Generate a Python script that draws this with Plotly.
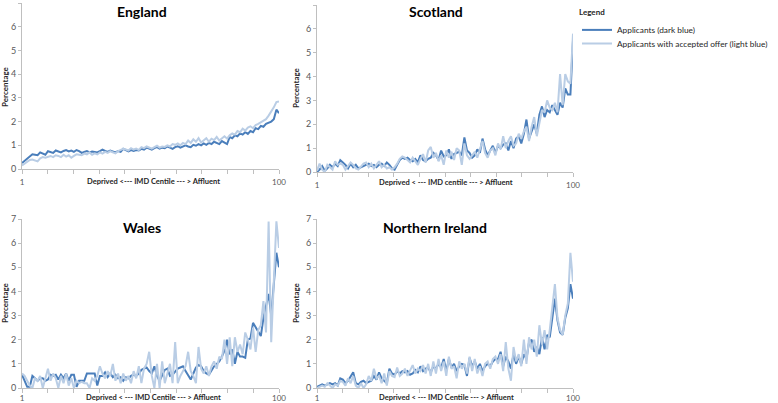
import plotly.graph_objects as go

# ---------------- data ----------------
centiles = list(range(1, 101))

england_applicants = [
    0.25, 0.35, 0.45, 0.55, 0.62, 0.60, 0.58, 0.70, 0.65, 0.60,
    0.75, 0.72, 0.68, 0.78, 0.73, 0.70, 0.76, 0.80, 0.74, 0.78,
    0.72, 0.80, 0.75, 0.68, 0.72, 0.76, 0.70, 0.74, 0.72, 0.70,
    0.75, 0.82, 0.76, 0.72, 0.78, 0.74, 0.70, 0.76, 0.72, 0.85,
    0.78, 0.74, 0.80, 0.76, 0.80, 0.78, 0.85, 0.82, 0.90, 0.86,
    0.82, 0.88, 0.92, 0.86, 0.90, 0.88, 0.95, 0.90, 0.85, 0.92,
    0.96, 0.90, 0.94, 1.00, 0.95, 0.92, 1.02, 0.98, 1.05, 1.00,
    1.08, 1.02, 1.10, 1.05, 1.15, 1.10, 1.05, 1.18, 1.12, 1.05,
    1.35, 1.30, 1.42, 1.38, 1.50, 1.45, 1.55, 1.48, 1.60, 1.55,
    1.72, 1.68, 1.82, 1.78, 1.90, 1.95, 2.00, 2.10, 2.50, 2.35,
]
england_accepted = [
    0.15, 0.22, 0.30, 0.38, 0.40, 0.35, 0.32, 0.45, 0.50, 0.48,
    0.52, 0.55, 0.50, 0.58, 0.55, 0.50, 0.60, 0.52, 0.58, 0.48,
    0.55, 0.62, 0.60, 0.58, 0.65, 0.62, 0.70, 0.60, 0.66, 0.62,
    0.70, 0.65, 0.72, 0.68, 0.75, 0.70, 0.66, 0.75, 0.80, 0.85,
    0.82, 0.78, 0.88, 0.82, 0.86, 0.80, 0.92, 0.88, 0.95, 0.90,
    0.86, 0.92, 0.98, 0.90, 0.95, 0.93, 1.00, 0.95, 1.05, 1.02,
    1.08, 1.00, 1.10, 1.05, 1.20, 1.10, 1.25, 1.15, 1.30, 1.12,
    1.20, 1.30, 1.15, 1.28, 1.22, 1.35, 1.20, 1.30, 1.38, 1.28,
    1.42, 1.50, 1.45, 1.60, 1.55, 1.70, 1.62, 1.75, 1.80, 1.72,
    1.85, 1.90, 1.98, 2.05, 2.10, 2.25, 2.40, 2.60, 2.82, 2.85,
]

scotland_applicants = [
    0.00, 0.10, 0.25, 0.05, 0.15, 0.30, 0.20, 0.35, 0.25, 0.50,
    0.40, 0.30, 0.15, 0.35, 0.20, 0.30, 0.15, 0.20, 0.25, 0.30,
    0.35, 0.25, 0.30, 0.20, 0.30, 0.35, 0.25, 0.40, 0.30, 0.15,
    0.10, 0.30, 0.50, 0.60, 0.55, 0.60, 0.50, 0.45, 0.55, 0.40,
    0.70, 0.50, 0.45, 0.55, 0.60, 0.80, 0.70, 0.50, 0.90, 0.65,
    0.70, 0.95, 0.55, 0.75, 0.80, 0.85, 0.70, 1.45, 0.90, 0.80,
    0.60, 0.70, 0.95, 0.80, 1.40, 0.95, 0.70, 0.90, 1.10, 0.80,
    1.10, 1.00, 1.15, 1.20, 0.90, 1.30, 1.00, 1.40, 1.50, 1.20,
    1.60, 2.20, 1.40, 1.70, 2.00, 1.60, 2.40, 2.75, 2.30, 2.60,
    2.50, 2.80, 2.60, 2.40, 2.90, 2.70, 3.50, 3.25, 3.25, 5.50,
]
scotland_accepted = [
    0.05, 0.35, 0.10, 0.00, 0.30, 0.20, 0.10, 0.45, 0.30, 0.35,
    0.30, 0.10, 0.25, 0.40, 0.30, 0.15, 0.10, 0.25, 0.35, 0.40,
    0.20, 0.35, 0.15, 0.30, 0.45, 0.20, 0.30, 0.15, 0.20, 0.10,
    0.20, 0.35, 0.55, 0.65, 0.60, 0.50, 0.40, 0.60, 0.45, 0.30,
    0.55, 0.75, 0.40, 0.90, 1.05, 0.60, 0.80, 0.45, 0.70, 0.30,
    0.90, 0.60, 0.85, 0.50, 1.00, 0.90, 0.30, 1.20, 0.70, 0.55,
    0.70, 0.85, 0.60, 1.00, 1.30, 0.80, 0.60, 0.90, 1.00, 0.70,
    1.20, 0.95, 1.50, 1.00, 1.30, 1.50, 1.10, 1.20, 1.60, 1.40,
    1.70, 1.90, 1.30, 1.90, 2.30, 1.50, 2.10, 2.60, 2.50, 3.00,
    2.70, 2.60, 2.90, 2.50, 4.10, 2.80, 4.10, 3.80, 3.70, 5.80,
]

wales_applicants = [
    0.55, 0.30, 0.05, 0.05, 0.50, 0.40, 0.30, 0.40, 0.40, 0.30,
    0.35, 0.55, 0.50, 0.55, 0.35, 0.55, 0.40, 0.60, 0.30, 0.55,
    0.55, 0.05, 0.30, 0.30, 0.30, 0.60, 0.60, 0.60, 0.60, 0.10,
    0.50, 0.50, 0.65, 0.45, 0.60, 0.45, 0.55, 0.40, 0.45, 0.30,
    0.45, 0.40, 0.50, 0.55, 0.50, 0.60, 0.75, 0.80, 0.85, 0.70,
    0.60, 0.90, 0.50, 0.30, 0.55, 0.75, 0.80, 0.50, 0.55, 0.70,
    0.80, 0.85, 0.90, 0.70, 0.55, 0.35, 0.60, 0.85, 0.95, 0.90,
    0.70, 0.60, 0.55, 0.75, 0.90, 1.00, 1.10, 1.30, 1.55, 2.00,
    1.40, 1.60, 1.00, 1.50, 1.30, 1.30, 1.25, 2.00, 2.05, 2.70,
    2.50, 2.30, 2.15, 2.90, 3.40, 3.90, 3.00, 4.50, 5.60, 5.00,
]
wales_accepted = [
    0.60, 0.50, 0.30, 0.10, 0.00, 0.40, 0.30, 0.50, 0.00, 0.40,
    0.80, 0.30, 0.60, 0.40, 0.00, 0.50, 0.20, 0.60, 0.10, 0.40,
    0.00, 0.30, 0.20, 0.25, 0.20, 0.20, 0.00, 0.40, 0.30, 0.50,
    0.90, 0.60, 0.40, 0.70, 0.50, 1.00, 0.30, 0.60, 0.20, 0.60,
    0.30, 0.50, 0.20, 0.70, 0.40, 0.90, 0.20, 0.80, 1.00, 1.50,
    0.50, 0.00, 1.00, 0.00, 1.10, 0.20, 0.60, 1.00, 0.20, 1.90,
    0.20, 0.50, 0.70, 0.90, 1.50, 0.70, 0.50, 0.20, 1.70, 0.80,
    0.60, 0.90, 0.50, 0.90, 1.10, 0.80, 1.30, 1.20, 2.00, 1.00,
    2.10, 0.90, 2.10, 1.50, 1.80, 1.40, 2.30, 2.00, 1.60, 2.50,
    1.50, 2.40, 2.60, 3.60, 2.30, 6.90, 1.90, 4.50, 6.90, 5.80,
]

ni_applicants = [
    0.05, 0.10, 0.15, 0.10, 0.15, 0.20, 0.15, 0.20, 0.10, 0.40,
    0.35, 0.20, 0.30, 0.45, 0.65, 0.20, 0.15, 0.25, 0.30, 0.20,
    0.25, 0.30, 0.50, 0.35, 0.65, 0.40, 0.30, 0.20, 0.80, 0.60,
    0.55, 0.70, 0.60, 0.70, 0.65, 0.70, 0.55, 0.60, 0.75, 0.65,
    0.90, 0.70, 0.80, 0.85, 0.65, 0.90, 0.80, 1.00, 0.85, 1.20,
    0.70, 1.20, 0.85, 1.00, 0.70, 0.90, 1.00, 0.95, 0.50, 1.25,
    0.90, 1.10, 0.80, 1.00, 0.70, 0.90, 1.00, 0.90, 1.10, 1.20,
    1.20, 1.50, 0.90, 1.30, 1.10, 0.80, 1.40, 1.00, 1.30, 1.00,
    1.40, 1.20, 1.90, 2.00, 1.50, 1.70, 1.40, 2.10, 1.60, 2.20,
    2.10, 3.00, 3.70, 2.80, 2.30, 2.20, 2.90, 3.30, 4.30, 3.70,
]
ni_accepted = [
    0.00, 0.05, 0.10, 0.05, 0.20, 0.10, 0.00, 0.15, 0.10, 0.30,
    0.25, 0.10, 0.40, 0.20, 0.50, 0.10, 0.00, 0.20, 0.00, 0.15,
    0.50, 0.30, 0.80, 0.40, 0.50, 0.20, 0.60, 0.10, 0.70, 0.50,
    0.45, 0.85, 0.50, 0.60, 0.80, 0.50, 0.70, 0.95, 0.60, 0.80,
    0.70, 0.95, 0.60, 1.00, 0.50, 1.10, 0.60, 1.20, 0.70, 1.10,
    0.50, 1.30, 0.80, 0.90, 0.40, 1.10, 0.80, 1.00, 0.60, 1.30,
    0.70, 1.20, 0.60, 0.90, 0.50, 1.00, 1.10, 0.80, 1.20, 1.30,
    1.00, 1.40, 0.70, 1.90, 0.80, 0.30, 1.70, 1.10, 1.40, 0.90,
    2.00, 1.00, 2.10, 1.60, 2.00, 1.30, 2.60, 1.80, 2.40, 1.60,
    2.40, 3.50, 4.30, 2.90, 2.40, 2.20, 3.00, 3.50, 5.60, 4.40,
]

panel_titles = ["England", "Scotland", "Wales", "Northern Ireland"]
x_titles = [
    "Deprived <--- IMD Centile --- > Affluent",
    "Deprived < --- IMD centile --- > Affluent",
    "Deprived < --- IMD Centile --- > Affluent",
    "Deprived < --- IMD Centile --- > Affluent",
]
y_title = "Percentage"
legend_title = "Legend"
series_names = ["Applicants (dark blue)", "Applicants with accepted offer (light blue)"]
y_ticks = [0, 1, 2, 3, 4, 5, 6, 7]
x_first_label, x_last_label = "1", "100"

# ---------------- layout helpers ----------------
W, H = 778, 403
DARK = "#4a7ebb"
LIGHT = "#b9cde5"
AXIS = "#bfbfbf"
TICKTXT = "#595959"
FONT = "Lato"


def fx(p):
    return p / W


def fy(p):
    return 1 - p / H


# panel boxes in pixels: left, right, top(=7), bottom(=0)
boxes = [
    (22, 279, 3, 169),
    (317, 573, 5, 172),
    (22, 279, 219, 388),
    (317, 573, 219, 388),
]
title_pos = [(142, 12), (436, 12), (142, 227), (435, 227)]
xtitle_pos = [(153, 181), (446, 183), (153, 397), (446, 397)]
ytitle_pos = [(5, 87), (296, 88), (5, 303), (296, 303)]
label_standoff = [1, 1, -2, -2]

data_pairs = [
    (england_applicants, england_accepted),
    (scotland_applicants, scotland_accepted),
    (wales_applicants, wales_accepted),
    (ni_applicants, ni_accepted),
]

fig = go.Figure()
tickvals = [1 + 9.9 * k for k in range(11)]
ticktext = [x_first_label] + [""] * 9 + [x_last_label]

annotations = []
for i, ((dark, light), box) in enumerate(zip(data_pairs, boxes)):
    n = "" if i == 0 else str(i + 1)
    xa, ya = "x" + n, "y" + n
    fig.add_trace(go.Scatter(x=centiles, y=dark, mode="lines", name=series_names[0],
                             line=dict(color=DARK, width=2), xaxis=xa, yaxis=ya,
                             showlegend=(i == 0), legend="legend"))
    fig.add_trace(go.Scatter(x=centiles, y=light, mode="lines", name=series_names[1],
                             line=dict(color=LIGHT, width=2), xaxis=xa, yaxis=ya,
                             showlegend=(i == 0), legend="legend2"))
    l, r, t, b = box
    fig.layout["xaxis" + n] = dict(
        domain=[fx(l), fx(r)], anchor=ya, range=[1, 100], tickmode="array",
        tickvals=tickvals, ticktext=ticktext, ticks="outside", ticklen=4,
        tickcolor=AXIS, showline=True, linecolor=AXIS, linewidth=1,
        showgrid=False, zeroline=False, automargin=False,
        ticklabelstandoff=label_standoff[i],
        tickfont=dict(family=FONT, size=8, color=TICKTXT),
    )
    fig.layout["yaxis" + n] = dict(
        domain=[fy(b), fy(t)], anchor=xa, range=[0, 7], tickmode="array",
        tickvals=y_ticks, ticks="outside", ticklen=3, tickcolor=AXIS,
        showline=True, linecolor=AXIS, linewidth=1, showgrid=False, zeroline=False,
        automargin=False,
        tickfont=dict(family=FONT, size=9, color=TICKTXT),
    )
    tx, ty = title_pos[i]
    annotations.append(dict(text="<b>%s</b>" % panel_titles[i], x=fx(tx), y=fy(ty),
                            xref="paper", yref="paper", showarrow=False,
                            xanchor="center", yanchor="middle",
                            font=dict(family=FONT, size=14, color="#000000")))
    xx, xy = xtitle_pos[i]
    annotations.append(dict(text="<b>%s</b>" % x_titles[i], x=fx(xx), y=fy(xy),
                            xref="paper", yref="paper", showarrow=False,
                            xanchor="center", yanchor="middle",
                            font=dict(family=FONT, size=7.5, color="#262626")))
    yx, yy = ytitle_pos[i]
    annotations.append(dict(text="<b>%s</b>" % y_title, x=fx(yx), y=fy(yy),
                            xref="paper", yref="paper", showarrow=False, textangle=-90,
                            xanchor="center", yanchor="middle",
                            font=dict(family=FONT, size=8, color="#262626")))

legend_common = dict(
    xanchor="left", yanchor="top",
    font=dict(family=FONT, size=8.3, color="#262626"),
    bgcolor="rgba(0,0,0,0)", borderwidth=0, tracegroupgap=0, itemwidth=30,
)

fig.update_layout(
    width=W, height=H,
    margin=dict(l=0, r=0, t=0, b=0, autoexpand=False),
    paper_bgcolor="white", plot_bgcolor="white",
    annotations=annotations,
    showlegend=True,
    legend=dict(
        title=dict(text="<b>%s</b>" % legend_title, font=dict(family=FONT, size=8, color="#262626")),
        x=fx(577), y=fy(5), **legend_common,
    ),
    legend2=dict(x=fx(577), y=fy(29), **legend_common),
)

# remove the default 8px page margin so the figure fills the window exactly
fig.write_html("out.html", config={"displayModeBar": False},
               post_script="document.body.style.margin='0px';")
